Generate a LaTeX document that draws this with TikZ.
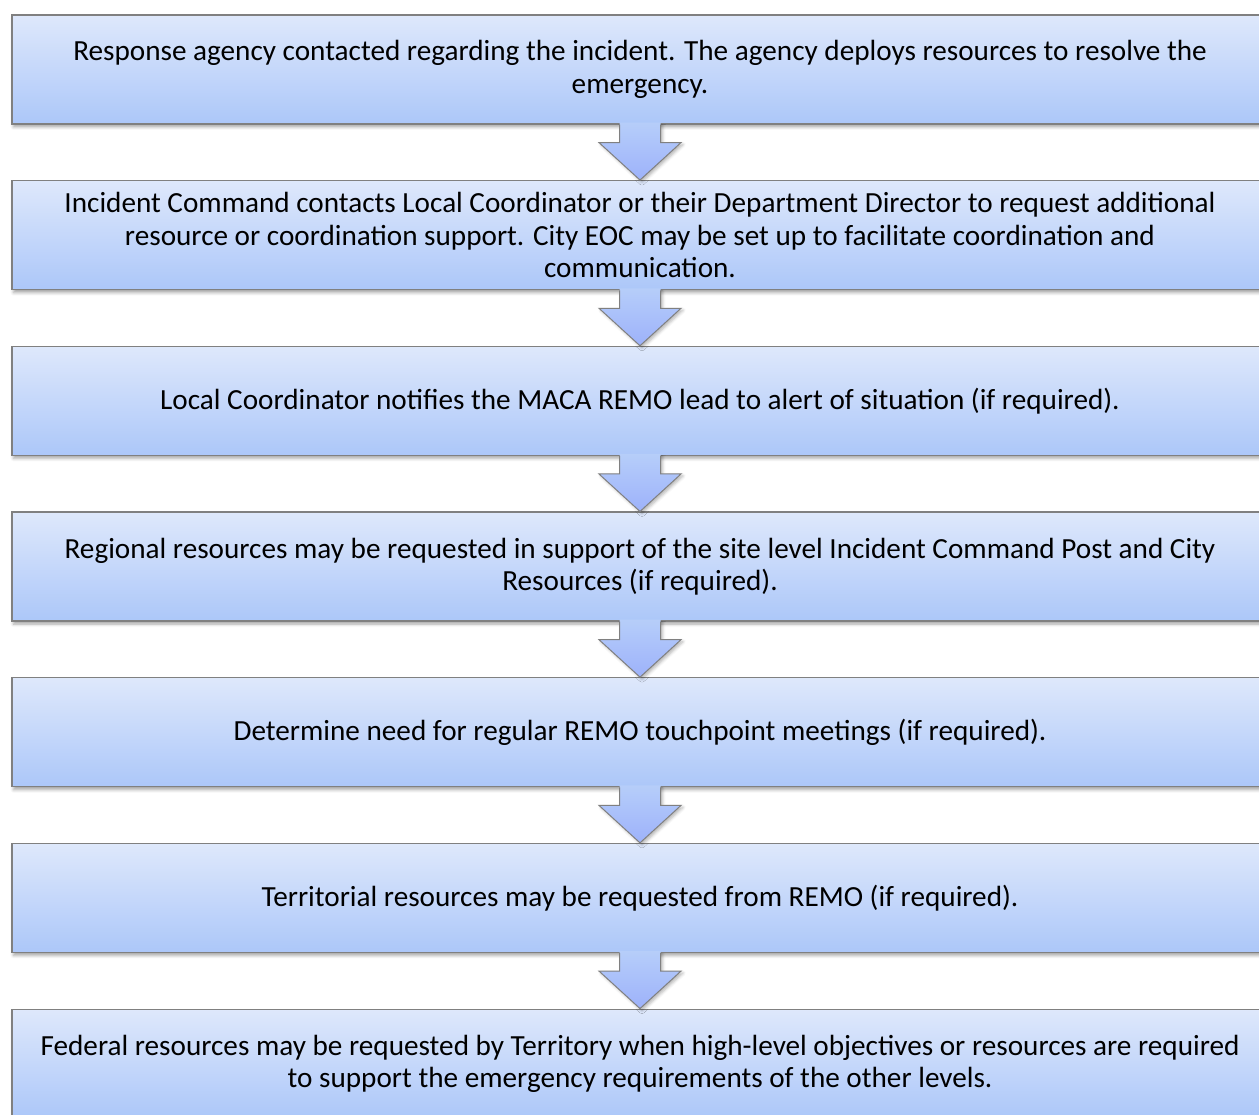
\documentclass[tikz,border=0pt]{standalone}
\usepackage{fontspec}
\setmainfont{Carlito}
\usetikzlibrary{calc,positioning,shadows.blur}

\definecolor{boxtop}{RGB}{222,232,251}
\definecolor{boxbottom}{RGB}{172,199,249}
\definecolor{boxline}{RGB}{128,128,128}

% block arrow from the bottom of one stage to the top of the next
\newcommand{\stagearrow}[2]{%
  \path[stage arrow] ($(#1.south)+(-20.5,2)$) -- ($(#1.south)+(-20.5,-18)$)
    -- ($(#1.south)+(-41,-18)$) -- (#2.north) -- ($(#1.south)+(41,-18)$)
    -- ($(#1.south)+(20.5,-18)$) -- ($(#1.south)+(20.5,2)$);
  \draw[boxline,line width=1pt,line join=miter] ($(#1.south)+(-20.5,0)$) -- ($(#1.south)+(-20.5,-18)$)
    -- ($(#1.south)+(-41,-18)$) -- (#2.north) -- ($(#1.south)+(41,-18)$)
    -- ($(#1.south)+(20.5,-18)$) -- ($(#1.south)+(20.5,0)$);
}

\begin{document}
\begin{tikzpicture}[x=1pt,y=1pt,
    stage node/.style={rectangle,draw=boxline,line width=1.2pt,top color=boxtop,bottom color=boxbottom,
      minimum width=1256pt,minimum height=109pt,inner sep=0pt,align=center,
      font=\fontsize{29.2}{32.5}\selectfont,
      blur shadow={shadow xshift=1.5pt,shadow yshift=-3pt,shadow blur radius=3pt,shadow opacity=35}},
    stage arrow/.style={top color=boxbottom!80!boxtop,bottom color=boxbottom!85!blue!90,
      blur shadow={shadow xshift=2pt,shadow yshift=-2pt,shadow blur radius=3pt,shadow opacity=30}}]
    \useasboundingbox (0,0) rectangle (1259,1115);
    \clip (0,0) rectangle (1259,1115);

    \node[stage node] (1) at (640,1045.5) {Response agency contacted regarding the incident. The agency deploys resources to resolve the\\ emergency.};
    \node[stage node] (2) [below = 55.5pt of 1] {Incident Command contacts Local Coordinator or their Department Director to request additional\\ resource or coordination support. City EOC may be set up to facilitate coordination and\\ communication.};
    \node[stage node] (3) [below = 55.5pt of 2] {Local Coordinator notifies the MACA REMO lead to alert of situation (if required).};
    \node[stage node] (4) [below = 55.5pt of 3] {Regional resources may be requested in support of the site level Incident Command Post and City\\ Resources (if required).};
    \node[stage node] (5) [below = 55.5pt of 4] {Determine need for regular REMO touchpoint meetings (if required).};
    \node[stage node] (6) [below = 55.5pt of 5] {Territorial resources may be requested from REMO (if required).};
    \node[stage node] (7) [below = 55.5pt of 6] {Federal resources may be requested by Territory when high-level objectives or resources are required\\ to support the emergency requirements of the other levels.};

    \foreach \a/\b in {1/2,2/3,3/4,4/5,5/6,6/7}
      \stagearrow{\a}{\b};
\end{tikzpicture}
\end{document}
